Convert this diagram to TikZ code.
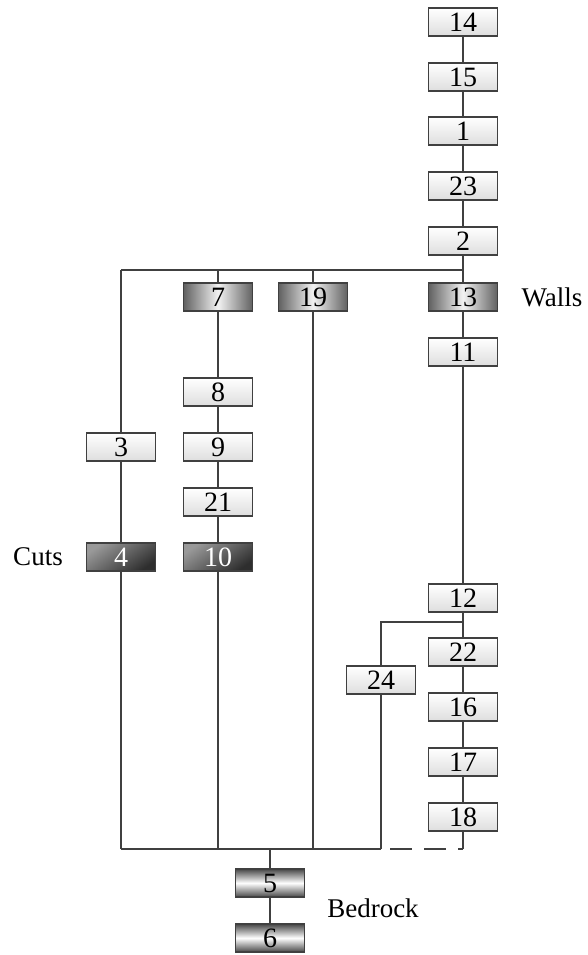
\documentclass[tikz,border=0pt]{standalone}
\usepackage{fontspec}
\setmainfont{Liberation Serif}
\begin{document}
\begin{tikzpicture}[x=1pt,y=-1pt,
  box/.style={draw=black!75,line width=1.3pt,minimum width=69pt,minimum height=28pt,inner sep=0pt,font=\fontsize{28}{28}\selectfont},
  lightbox/.style={box,top color=white,bottom color=black!13},
  wallbox/.style={box,left color=black!62,right color=black!62,middle color=black!5},
  cutbox/.style={box,shading=axis,top color=black!40,bottom color=black!82,shading angle=35,text=white},
  bedbox/.style={box,top color=black!72,bottom color=black!72,middle color=white},
  link/.style={draw=black!75,line width=1.1pt},
  lbl/.style={font=\fontsize{27}{27}\selectfont}]
\useasboundingbox (0,0) rectangle (588,955);
% right column
\node[lightbox] (n14) at (463,22) {14};
\node[lightbox] (n15) at (463,77) {15};
\node[lightbox] (n1) at (463,131) {1};
\node[lightbox] (n23) at (463,186) {23};
\node[lightbox] (n2) at (463,241) {2};
\node[wallbox] (n13) at (463,297) {13};
\node[lightbox] (n11) at (463,352) {11};
\node[lightbox] (n12) at (463,598) {12};
\node[lightbox] (n22) at (463,652) {22};
\node[lightbox] (n16) at (463,707) {16};
\node[lightbox] (n17) at (463,762) {17};
\node[lightbox] (n18) at (463,817) {18};
% other columns
\node[wallbox] (n7) at (218,297) {7};
\node[wallbox] (n19) at (313,297) {19};
\node[lightbox] (n8) at (218,392) {8};
\node[lightbox] (n3) at (121,447) {3};
\node[lightbox] (n9) at (218,447) {9};
\node[lightbox] (n21) at (218,502) {21};
\node[cutbox] (n4) at (121,557) {4};
\node[cutbox] (n10) at (218,557) {10};
\node[lightbox] (n24) at (381,680) {24};
\node[bedbox] (n5) at (270,883) {5};
\node[bedbox] (n6) at (270,938) {6};
% labels
\node[lbl] (walls) at (552,297) {Walls};
\node[lbl] (cuts) at (38,557) {Cuts};
\node[lbl] (bedrock) at (373,908) {Bedrock};
% junction coordinates
\coordinate (jt3) at (121,270);
\coordinate (jt7) at (218,270);
\coordinate (jt19) at (313,270);
\coordinate (jt13) at (463,270);
\coordinate (jm12) at (463,622);
\coordinate (jm24) at (381,622);
\coordinate (jb4) at (121,849);
\coordinate (jb10) at (218,849);
\coordinate (jb5) at (270,849);
\coordinate (jb19) at (313,849);
\coordinate (jb24) at (381,849);
\coordinate (jb18) at (463,849);
% connectors
\path[link] (n14) -- (n15) (n15) -- (n1) (n1) -- (n23) (n23) -- (n2) (n2) -- (n13)
  (n13) -- (n11) (n11) -- (n12) (n12) -- (n22) (n22) -- (n16) (n16) -- (n17) (n17) -- (n18);
\path[link] (jt3) -- (jt13);
\path[link] (jt3) -- (n3) (n3) -- (n4) (n4) -- (jb4);
\path[link] (jt7) -- (n7) (n7) -- (n8) (n8) -- (n9) (n9) -- (n21) (n21) -- (n10) (n10) -- (jb10);
\path[link] (jt19) -- (n19) (n19) -- (jb19);
\path[link] (jm12) -- (jm24) -- (n24) (n24) -- (jb24);
\path[link] (jb4) -- (jb24);
\path[link] (n18) -- (jb18);
\path[link,dash pattern=on 22pt off 12pt,dash phase=25pt] (jb24) -- (jb18);
\path[link] (jb5) -- (n5) (n5) -- (n6);
\end{tikzpicture}
\end{document}
